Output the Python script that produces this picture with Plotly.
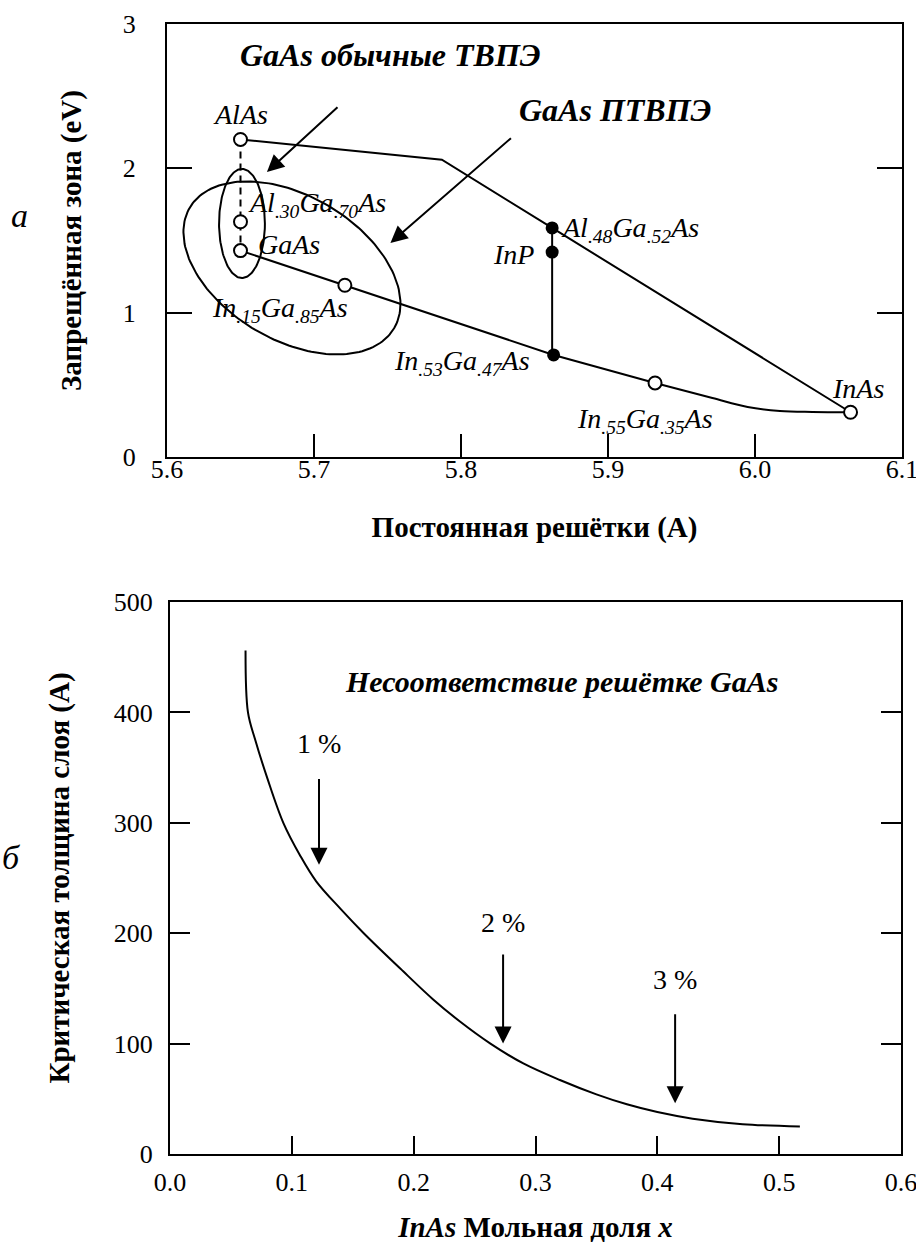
import numpy as np
import plotly.graph_objects as go

FONT = "Liberation Serif, Times New Roman, DejaVu Serif, serif"

# ---------------- Data: chart (a) band gap vs lattice constant ----------------
upper_x = [5.650, 5.787, 5.862, 6.065]          # AlAs -> kink -> Al.48Ga.52As -> InAs
upper_y = [2.20, 2.06, 1.587, 0.31]

alga_x = [5.650, 5.650, 5.650]                  # AlAs - Al.30Ga.70As - GaAs (dashed)
alga_y = [2.20, 1.63, 1.43]

lower_x = [5.650, 5.721, 5.863, 5.932]          # GaAs -> In.15 -> In.53 -> In.55
lower_y = [1.43, 1.19, 0.707, 0.513]

tail_x = [5.932, 5.971, 5.995, 6.017, 6.039, 6.065]   # In.55 -> InAs
tail_y = [0.513, 0.409, 0.347, 0.319, 0.312, 0.31]

inp_x = [5.862, 5.862, 5.862]                   # Al.48Ga.52As - InP - In.53Ga.47As
inp_y = [1.587, 1.42, 0.707]

open_names = ["AlAs", "Al.30Ga.70As", "GaAs", "In.15Ga.85As", "In.55Ga.35As", "InAs"]
open_x = [5.650, 5.650, 5.650, 5.721, 5.932, 6.065]
open_y = [2.20, 1.63, 1.43, 1.19, 0.513, 0.31]

filled_names = ["Al.48Ga.52As", "InP", "In.53Ga.47As"]
filled_x = [5.862, 5.862, 5.863]
filled_y = [1.587, 1.42, 0.707]

# pointer arrows (tail -> tip)
a_arrow_tail_x = [5.717, 5.835]
a_arrow_tail_y = [2.432, 2.218]
a_arrow_tip_x = [5.668, 5.752]
a_arrow_tip_y = [1.975, 1.483]

# ellipses: centre and two conjugate semi-axis vectors (data units)
small_ell_c = (5.651, 1.618)
small_ell_u = (0.0156, 0.0)
small_ell_v = (0.0, 0.378)
big_ell_c = (5.685, 1.310)
big_ell_u = (0.0695, -0.418)
big_ell_v = (-0.0249, -0.4296)

a_xticks = [5.6, 5.7, 5.8, 5.9, 6.0, 6.1]
a_xticklabels = ["5.6", "5.7", "5.8", "5.9", "6.0", "6.1"]
a_yticks = [0, 1, 2, 3]
a_yticklabels = ["0", "1", "2", "3"]

# ---------------- Data: chart (б) critical thickness ----------------
crit_x = [0.062, 0.064, 0.070, 0.080, 0.093, 0.107, 0.120, 0.140, 0.159, 0.189,
          0.216, 0.238, 0.263, 0.290, 0.320, 0.350, 0.375, 0.400, 0.429, 0.470, 0.517]
crit_y = [456, 400, 375, 340, 300, 270, 247, 222, 200, 168,
          140, 120, 100, 82, 67, 54, 45, 38, 32, 27, 25]

mismatch_labels = ["1 %", "2 %", "3 %"]
mismatch_x = [0.1223, 0.2734, 0.4146]
mismatch_label_y = [372, 210, 158]
mismatch_arrow_top = [341, 182, 128]
mismatch_arrow_tip = [262, 100, 46]

b_xticks = [0.0, 0.1, 0.2, 0.3, 0.4, 0.5, 0.6]
b_xticklabels = ["0.0", "0.1", "0.2", "0.3", "0.4", "0.5", "0.6"]
b_yticks = [0, 100, 200, 300, 400, 500]
b_yticklabels = ["0", "100", "200", "300", "400", "500"]


def ellipse(c, u, v, n=181):
    t = np.linspace(0, 2 * np.pi, n)
    return (c[0] + u[0] * np.cos(t) + v[0] * np.sin(t),
            c[1] + u[1] * np.cos(t) + v[1] * np.sin(t))


fig = go.Figure()
line = dict(color="black", width=2)

# chart (a)
for ex, ey in (ellipse(small_ell_c, small_ell_u, small_ell_v),
               ellipse(big_ell_c, big_ell_u, big_ell_v)):
    fig.add_trace(go.Scatter(x=ex, y=ey, mode="lines", line=line,
                             hoverinfo="skip", xaxis="x", yaxis="y"))
fig.add_trace(go.Scatter(x=upper_x, y=upper_y, mode="lines", line=line, xaxis="x", yaxis="y"))
fig.add_trace(go.Scatter(x=alga_x, y=alga_y, mode="lines",
                         line=dict(color="black", width=2, dash="7px,5px"), xaxis="x", yaxis="y"))
fig.add_trace(go.Scatter(x=lower_x, y=lower_y, mode="lines", line=line, xaxis="x", yaxis="y"))
fig.add_trace(go.Scatter(x=tail_x, y=tail_y, mode="lines",
                         line=dict(color="black", width=2, shape="spline", smoothing=1.0),
                         xaxis="x", yaxis="y"))
fig.add_trace(go.Scatter(x=inp_x, y=inp_y, mode="lines", line=line, xaxis="x", yaxis="y"))
fig.add_trace(go.Scatter(x=open_x, y=open_y, mode="markers", text=open_names,
                         marker=dict(symbol="circle", size=13, color="white",
                                     line=dict(color="black", width=2)),
                         xaxis="x", yaxis="y"))
fig.add_trace(go.Scatter(x=filled_x, y=filled_y, mode="markers", text=filled_names,
                         marker=dict(symbol="circle", size=13, color="black"),
                         xaxis="x", yaxis="y"))

# chart (б)
fig.add_trace(go.Scatter(x=crit_x, y=crit_y, mode="lines",
                         line=dict(color="black", width=2, shape="spline", smoothing=1.0),
                         xaxis="x2", yaxis="y2"))

ann = []


def label(text, x, y, size=28, xanchor="center", xref="x", yref="y"):
    ann.append(dict(text=text, x=x, y=y, xref=xref, yref=yref, showarrow=False,
                    xanchor=xanchor, yanchor="middle",
                    font=dict(family=FONT, size=size, color="black")))


def arrow(x0, y0, x1, y1, xref, yref):
    ann.append(dict(x=x1, y=y1, ax=x0, ay=y0, xref=xref, yref=yref, axref=xref, ayref=yref,
                    showarrow=True, arrowhead=2, arrowsize=1.7, arrowwidth=2,
                    arrowcolor="black", text=""))


def sub(a, b):
    return f"{a}<sub>{b}</sub>"


# labels chart (a)
label("<b><i>GaAs обычные ТВПЭ</i></b>", 5.752, 2.786, size=32)
label("<b><i>GaAs ПТВПЭ</i></b>", 5.905, 2.405, size=32)
label("<i>AlAs</i>", 5.650, 2.37)
label("<i>" + sub("Al", ".30") + sub("Ga", ".70") + "As</i>", 5.702, 1.75)
label("<i>GaAs</i>", 5.683, 1.469)
label("<i>" + sub("In", ".15") + sub("Ga", ".85") + "As</i>", 5.677, 1.025)
label("<i>" + sub("Al", ".48") + sub("Ga", ".52") + "As</i>", 5.915, 1.575)
label("<i>InP</i>", 5.836, 1.40)
label("<i>" + sub("In", ".53") + sub("Ga", ".47") + "As</i>", 5.801, 0.655)
label("<i>" + sub("In", ".55") + sub("Ga", ".35") + "As</i>", 5.925, 0.255)
label("<i>InAs</i>", 6.070, 0.478)
for x0, y0, x1, y1 in zip(a_arrow_tail_x, a_arrow_tail_y, a_arrow_tip_x, a_arrow_tip_y):
    arrow(x0, y0, x1, y1, "x", "y")

# labels chart (б)
label("<b><i>Несоответствие решётке GaAs</i></b>", 0.321, 428, size=30, xref="x2", yref="y2")
for t, x, ly, top, tip in zip(mismatch_labels, mismatch_x, mismatch_label_y,
                              mismatch_arrow_top, mismatch_arrow_tip):
    label(t, x, ly, size=28, xref="x2", yref="y2")
    arrow(x, top, x, tip, "x2", "y2")

# panel letters
ann.append(dict(text="<i>a</i>", x=19 / 916, y=1 - 215 / 1243, xref="paper", yref="paper",
                showarrow=False, xanchor="center", yanchor="middle",
                font=dict(family=FONT, size=34, color="black")))
ann.append(dict(text="<i>б</i>", x=0.0, y=1 - 857 / 1243, xref="paper", yref="paper",
                showarrow=False, xanchor="left", yanchor="middle",
                font=dict(family=FONT, size=34, color="black")))

tickfont = dict(family=FONT, size=26, color="black")
titlefont = dict(family=FONT, size=29, color="black")
common = dict(showgrid=False, zeroline=False, showline=True, linecolor="black",
              linewidth=2, ticks="inside", tickcolor="black", tickwidth=2,
              tickfont=tickfont, automargin=False, ticklabeloverflow="allow")

fig.update_layout(
    width=916, height=1243, autosize=False,
    margin=dict(l=0, r=0, t=0, b=0),
    paper_bgcolor="white", plot_bgcolor="white",
    showlegend=False,
    xaxis=dict(domain=[167 / 916, 902 / 916], anchor="y", range=[5.6, 6.1],
               tickvals=a_xticks, ticktext=a_xticklabels, ticklen=23, mirror=True,
               ticklabelstandoff=-12,
               title=dict(text="<b>Постоянная решётки (А)</b>", font=titlefont, standoff=33),
               **common),
    yaxis=dict(domain=[1 - 457 / 1243, 1 - 24 / 1243], anchor="x", range=[0, 3],
               tickvals=a_yticks, ticktext=a_yticklabels, ticklen=25, mirror="ticks",
               ticklabelstandoff=24,
               title=dict(text="<b>Запрещённая зона (eV)</b>", font=titlefont, standoff=33),
               **common),
    xaxis2=dict(domain=[170 / 916, 901 / 916], anchor="y2", range=[0, 0.6],
                tickvals=b_xticks, ticktext=b_xticklabels, ticklen=18, mirror=True,
                ticklabelstandoff=4,
                title=dict(text="<b><i>InAs</i> Мольная доля <i>x</i></b>", font=titlefont,
                           standoff=22),
                **common),
    yaxis2=dict(domain=[1 - 1154 / 1243, 1 - 602 / 1243], anchor="x2", range=[0, 500],
                tickvals=b_yticks, ticktext=b_yticklabels, ticklen=20, mirror="ticks",
                ticklabelstandoff=10,
                title=dict(text="<b>Критическая толщина слоя (А)</b>", font=titlefont,
                           standoff=36),
                **common),
    annotations=ann,
)

fig.write_html("out.html")
